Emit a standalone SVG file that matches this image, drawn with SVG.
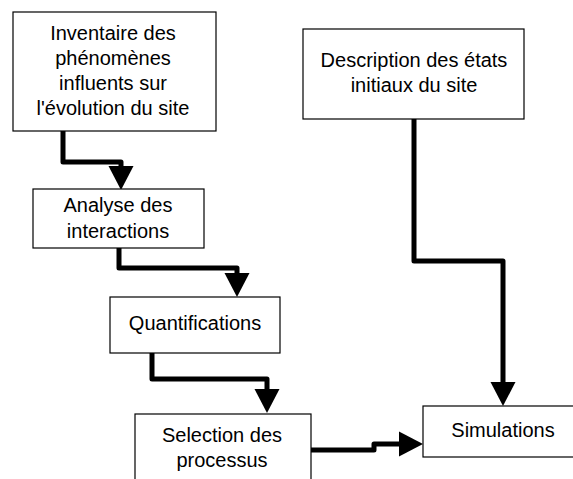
<svg xmlns="http://www.w3.org/2000/svg" width="573" height="479" viewBox="0 0 573 479">
<defs>
<marker id="arr" markerUnits="userSpaceOnUse" markerWidth="26" markerHeight="26" refX="0" refY="12.5" orient="auto" overflow="visible">
<path d="M0,0 L24,12.5 L0,25 Z" fill="#000"/>
</marker>
</defs>
<style>
.box{fill:#fff;stroke:#000;stroke-width:1.2}
.t{font-family:"Liberation Sans",Arial,sans-serif;font-size:20px;fill:#000;text-anchor:middle}
.c{fill:none;stroke:#000;stroke-width:5;stroke-linejoin:round}
</style>
<rect width="573" height="479" fill="#fff"/>
<g id="connectors">
<path class="c" d="M63,131 V162 H121 V166" marker-end="url(#arr)"/>
<path class="c" d="M119,248 V268 H237 V273" marker-end="url(#arr)"/>
<path class="c" d="M152,353 V379 H267 V389" marker-end="url(#arr)"/>
<path class="c" d="M311,450 H374 V444 H399" marker-end="url(#arr)"/>
<path class="c" d="M414,119 V261 H503 V382" marker-end="url(#arr)"/>
</g>
<g id="n1">
<rect class="box" x="13" y="12" width="203" height="119"/>
<text class="t" x="113" y="40">Inventaire des</text>
<text class="t" x="113" y="65">phénomènes</text>
<text class="t" x="113" y="90">influents sur</text>
<text class="t" x="113" y="115">l'évolution du site</text>
</g>
<g id="n2">
<rect class="box" x="33" y="189" width="171" height="59"/>
<text class="t" x="118" y="212">Analyse des</text>
<text class="t" x="118" y="238">interactions</text>
</g>
<g id="n3">
<rect class="box" x="110" y="297" width="170" height="56"/>
<text class="t" x="195" y="330">Quantifications</text>
</g>
<g id="n4">
<rect class="box" x="135" y="414" width="176" height="80"/>
<text class="t" x="222" y="442">Selection des</text>
<text class="t" x="222" y="467">processus</text>
</g>
<g id="n5">
<rect class="box" x="303" y="29" width="221" height="90"/>
<text class="t" x="414" y="67">Description des états</text>
<text class="t" x="414" y="92">initiaux du site</text>
</g>
<g id="n6">
<rect class="box" x="423" y="406" width="160" height="51"/>
<text class="t" x="503" y="437">Simulations</text>
</g>
</svg>
